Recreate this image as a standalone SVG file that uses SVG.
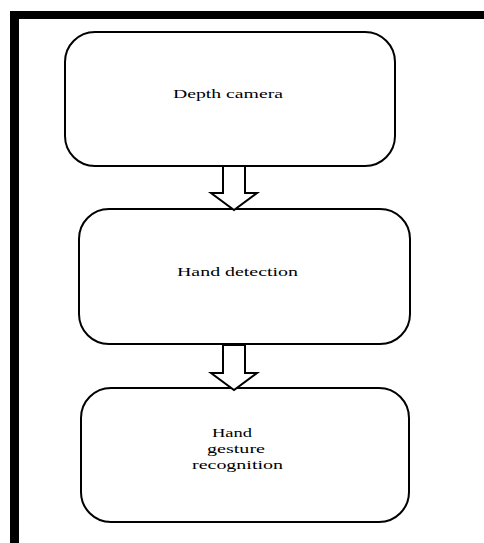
<svg xmlns="http://www.w3.org/2000/svg" width="484" height="543" viewBox="0 0 484 543">
<style>
.box{fill:#fff;stroke:#000;stroke-width:2}
.arr{fill:#fff;stroke:#000;stroke-width:2;stroke-linejoin:miter}
.t{font-family:"Liberation Serif","Times New Roman",serif;font-size:13px;fill:#000;text-anchor:start}
</style>
<rect x="0" y="0" width="484" height="543" fill="#fff"/>
<g id="frame">
<rect x="10" y="11" width="474" height="8" fill="#000"/>
<rect x="10" y="11" width="9" height="532" fill="#000"/>
</g>
<g id="node-depth-camera">
<rect class="box" x="65" y="32" width="330" height="134" rx="30" ry="30"/>
<text class="t" x="173" y="98" textLength="110" lengthAdjust="spacingAndGlyphs">Depth camera</text>
</g>
<g id="node-hand-detection">
<rect class="box" x="79" y="209" width="331" height="135" rx="30" ry="30"/>
<text class="t" x="177" y="276" textLength="121" lengthAdjust="spacingAndGlyphs">Hand detection</text>
</g>
<g id="node-hand-gesture-recognition">
<rect class="box" x="81" y="388" width="328" height="134" rx="30" ry="30"/>
<text class="t" x="212" y="437" textLength="40" lengthAdjust="spacingAndGlyphs">Hand</text>
<text class="t" x="207" y="453" textLength="58" lengthAdjust="spacingAndGlyphs">gesture</text>
<text class="t" x="192" y="469" textLength="91" lengthAdjust="spacingAndGlyphs">recognition</text>
</g>
<g id="connectors">
<polygon class="arr" points="223,166 245,166 245,193 257,193 234,210 211,193 223,193"/>
<polygon class="arr" points="223,345 245,345 245,373 257,373 234,390 211,373 223,373"/>
</g>
</svg>
